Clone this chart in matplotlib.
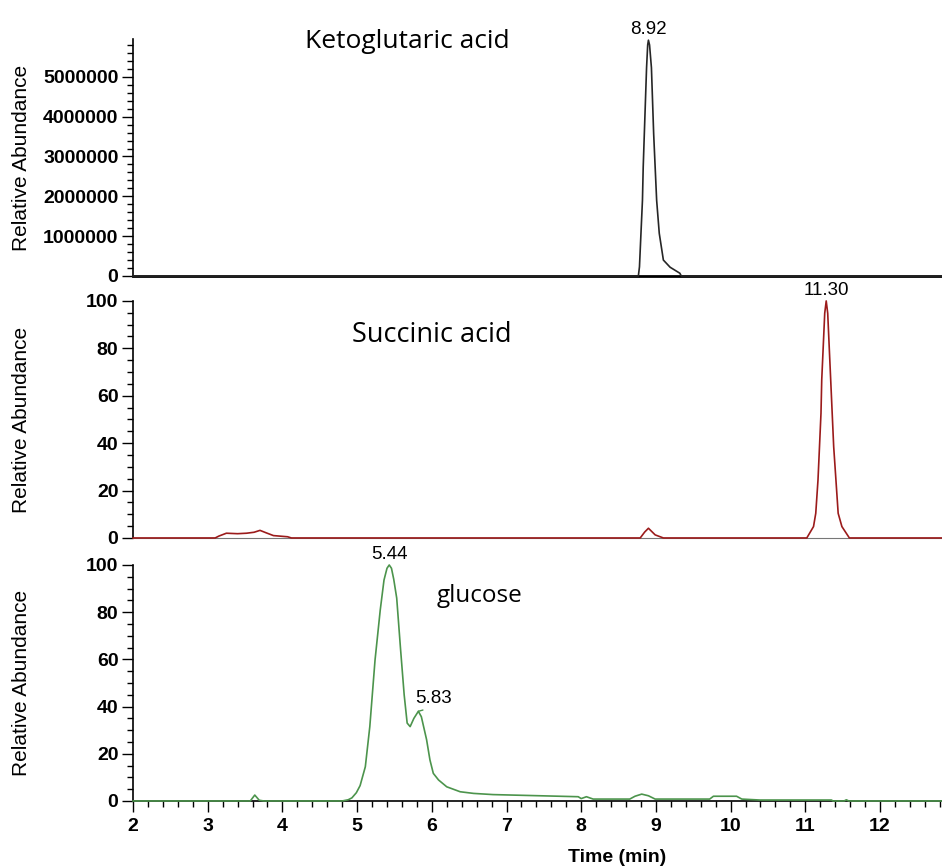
import numpy as np
import matplotlib.pyplot as plt
from matplotlib.ticker import MultipleLocator, FormatStrFormatter

# traces (time in min)
keto_t = [2.0, 8.765, 8.78, 8.80, 8.82, 8.83, 8.845, 8.86, 8.875, 8.89, 8.90, 8.915, 8.94, 8.955,
          8.97, 8.99, 9.01, 9.045, 9.10, 9.19, 9.32, 9.34, 12.83]
keto_y = [0, 0, 0.23e6, 1.07e6, 1.9e6, 2.73e6, 3.57e6, 4.4e6, 5.23e6, 5.8e6, 5.92e6, 5.8e6, 5.23e6, 4.4e6,
          3.57e6, 2.73e6, 1.9e6, 1.07e6, 0.4e6, 0.22e6, 0.07e6, 0, 0]

succ_t = [2.0, 3.10, 3.15, 3.25, 3.40, 3.52, 3.62, 3.70, 3.78, 3.88, 4.07, 4.12, 8.79, 8.85, 8.90,
          8.99, 9.10, 11.02, 11.11, 11.14, 11.17, 11.19, 11.21, 11.22, 11.24, 11.26, 11.28, 11.30,
          11.32, 11.34, 11.36, 11.38, 11.41, 11.44, 11.49, 11.59, 12.83]
succ_y = [0, 0, 0.8, 2.0, 1.8, 2.0, 2.4, 3.2, 2.2, 1.0, 0.5, 0, 0, 2.5, 4.1,
          1.3, 0, 0, 4.8, 10.4, 24.5, 38.5, 52.6, 66.7, 80.7, 94.8, 100, 94.8,
          80.7, 66.7, 52.6, 38.5, 24.5, 10.4, 4.8, 0, 0]

gluc_t = [2.0, 3.57, 3.63, 3.69, 3.75, 4.80, 4.88, 4.93, 4.99, 5.04, 5.11, 5.17, 5.24, 5.31, 5.36,
          5.40, 5.43, 5.46, 5.49, 5.53, 5.58, 5.63, 5.67, 5.71, 5.76, 5.82, 5.86, 5.93, 5.975,
          6.02, 6.09, 6.20, 6.38, 6.56, 6.82, 7.20, 7.58, 7.96, 8.00, 8.07, 8.16, 8.65, 8.72,
          8.81, 8.90, 8.99, 9.72, 9.77, 10.08, 10.15, 10.39, 11.35, 11.37, 11.52, 11.55, 11.58, 12.83]
gluc_y = [0, 0, 2.5, 0.3, 0, 0, 0.5, 1.3, 3.5, 6.5, 14.5, 31.5, 59.7, 81, 93.6,
          98.6, 100, 98.6, 94, 86, 65, 45, 33, 31.5, 35, 38, 35.7, 26, 17.4,
          11.7, 8.9, 6.0, 3.9, 3.2, 2.7, 2.4, 2.1, 1.8, 1.0, 1.8, 0.8, 0.8, 2.0,
          2.9, 2.2, 0.8, 0.8, 2.0, 2.0, 0.8, 0.4, 0.4, 0, 0, 0.5, 0, 0]

names = ['Ketoglutaric acid', 'Succinic acid', 'glucose']
name_pos = [(4.30, 5.72e6), (4.93, 82.5), (6.07, 84.3)]
name_size = [19, 19.5, 17.5]
peak_text = ['8.92', '11.30', '5.44']
shoulder_text = '5.83'
colors = ['#262626', '#9b1b1b', '#4c944c']

num_font = ['Liberation Sans', 'DejaVu Sans']
name_font = ['Open Sans', 'DejaVu Sans']

fig = plt.figure(figsize=(9.42, 8.66), dpi=100)
boxes = [[0.1412, 0.6813, 0.8588, 0.2737],
         [0.1412, 0.3788, 0.8588, 0.2737],
         [0.1412, 0.0751, 0.8588, 0.2725]]
axes = [fig.add_axes(b) for b in boxes]
traces = [(keto_t, keto_y), (succ_t, succ_y), (gluc_t, gluc_y)]

for i, ax in enumerate(axes):
    t, y = traces[i]
    ax.set_xlim(2, 12.83)
    for s in ['top', 'right']:
        ax.spines[s].set_visible(False)
    ax.spines['left'].set_linewidth(1.2)
    ax.plot(t, y, color=colors[i], lw=1.2, clip_on=False, zorder=3)
    if i == 0:
        ax.set_ylim(0, 5.95e6)
        ax.yaxis.set_major_locator(MultipleLocator(1e6))
        ax.yaxis.set_minor_locator(MultipleLocator(2e5))
        ax.yaxis.set_major_formatter(FormatStrFormatter('%d'))
        ax.spines['bottom'].set_linewidth(2)
    else:
        ax.set_ylim(0, 100)
        ax.yaxis.set_major_locator(MultipleLocator(20))
        ax.yaxis.set_minor_locator(MultipleLocator(5))
    if i == 1:
        ax.spines['bottom'].set_color('#777777')
    ax.tick_params(axis='y', which='major', direction='out', length=8, width=1, pad=2.5)
    ax.tick_params(axis='y', which='minor', direction='out', length=4.5, width=1)
    if i < 2:
        ax.tick_params(axis='x', which='both', bottom=False, labelbottom=False)
    else:
        ax.xaxis.set_major_locator(MultipleLocator(1))
        ax.xaxis.set_minor_locator(MultipleLocator(0.2))
        ax.tick_params(axis='x', which='major', direction='out', length=8, width=1, pad=4)
        ax.tick_params(axis='x', which='minor', direction='out', length=4.5, width=1)
        ax.spines['bottom'].set_linewidth(1.2)
    for lab in ax.get_xticklabels() + ax.get_yticklabels():
        lab.set_fontfamily(num_font)
        lab.set_fontsize(14)
        lab.set_fontweight('bold')
    ax.text(name_pos[i][0], name_pos[i][1], names[i], fontsize=name_size[i], family=name_font,
            ha='left', va='baseline', clip_on=False)
    fig.text(22 / 942, boxes[i][1] + boxes[i][3] / 2, 'Relative Abundance', rotation=90,
             ha='center', va='center', fontsize=15, family=num_font)

    # label on the main peak
    k = int(np.argmax(y))
    ax.annotate(peak_text[i], xy=(t[k], y[k]), xytext=(0, 1.5), textcoords='offset points',
                ha='center', va='bottom', fontsize=13.5, family=num_font, annotation_clip=False)

# shoulder label on glucose
k = gluc_t.index(5.82)
axes[2].annotate(shoulder_text, xy=(gluc_t[k], gluc_y[k]), xytext=(10.6, 2.9),
                 textcoords='offset points', ha='center', va='bottom', fontsize=13.5,
                 family=num_font, annotation_clip=False,
                 arrowprops=dict(arrowstyle='-', color=colors[2], lw=1, shrinkA=0, shrinkB=0,
                                 relpos=(0.5, 0)))

fig.text(617 / 942, 1 - 857 / 866, 'Time (min)', ha='center', va='center', fontsize=14,
         family=num_font, fontweight='bold')

plt.savefig('out.png', dpi=100)
